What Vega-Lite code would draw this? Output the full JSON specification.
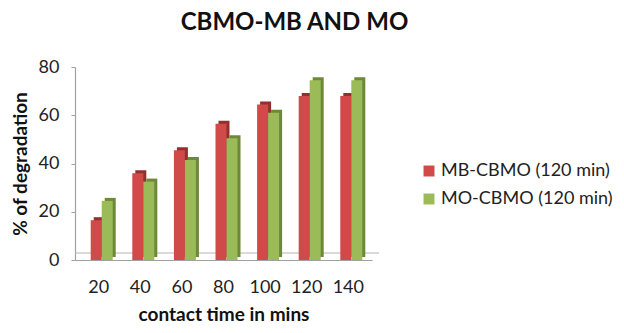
{
  "$schema": "https://vega.github.io/schema/vega-lite/v6.json",
  "width": 297,
  "height": 193,
  "autosize": "none",
  "padding": {"left": 75, "top": 67, "right": 252, "bottom": 73},
  "background": "white",
  "config": {
    "font": "Lato",
    "view": {"stroke": null}
  },
  "title": {
    "text": "CBMO-MB AND MO",
    "font": "Lato",
    "fontSize": 24,
    "fontWeight": "bold",
    "color": "#111111",
    "anchor": "middle",
    "dx": 71,
    "offset": 23
  },
  "data": {
    "values": [
      {"time": 20, "series": "MB-CBMO (120 min)", "degradation": 16.5},
      {"time": 20, "series": "MO-CBMO (120 min)", "degradation": 24.5},
      {"time": 40, "series": "MB-CBMO (120 min)", "degradation": 36},
      {"time": 40, "series": "MO-CBMO (120 min)", "degradation": 32.5},
      {"time": 60, "series": "MB-CBMO (120 min)", "degradation": 45.5},
      {"time": 60, "series": "MO-CBMO (120 min)", "degradation": 41.5},
      {"time": 80, "series": "MB-CBMO (120 min)", "degradation": 56.5},
      {"time": 80, "series": "MO-CBMO (120 min)", "degradation": 50.5},
      {"time": 100, "series": "MB-CBMO (120 min)", "degradation": 64.5},
      {"time": 100, "series": "MO-CBMO (120 min)", "degradation": 61},
      {"time": 120, "series": "MB-CBMO (120 min)", "degradation": 68},
      {"time": 120, "series": "MO-CBMO (120 min)", "degradation": 74.5},
      {"time": 140, "series": "MB-CBMO (120 min)", "degradation": 68},
      {"time": 140, "series": "MO-CBMO (120 min)", "degradation": 74.5}
    ]
  },
  "encoding": {
    "x": {
      "field": "time",
      "type": "ordinal",
      "scale": {"paddingInner": 0, "paddingOuter": 0.07},
      "axis": {
        "title": "contact time in mins",
        "titleFont": "Lato",
        "titleFontSize": 19,
        "titleFontWeight": "bold",
        "titleColor": "#111111",
        "titlePadding": 9,
        "labelAngle": 0,
        "labelFont": "Lato",
        "labelFontSize": 18,
        "labelColor": "#222222",
        "labelPadding": 18,
        "ticks": false,
        "domainColor": "#a0a0a0",
        "domainWidth": 1.2
      }
    },
    "y": {
      "field": "degradation",
      "type": "quantitative",
      "scale": {"domain": [0, 80]},
      "axis": {
        "title": "% of degradation",
        "titleFont": "Lato",
        "titleFontSize": 19,
        "titleFontWeight": "bold",
        "titleColor": "#111111",
        "titlePadding": 8,
        "values": [0, 20, 40, 60, 80],
        "labelFont": "Lato",
        "labelFontSize": 18,
        "labelColor": "#222222",
        "labelPadding": 12,
        "ticks": true,
        "tickSize": 4,
        "tickColor": "#a0a0a0",
        "grid": false,
        "domainColor": "#a0a0a0",
        "domainWidth": 1.2
      }
    }
  },
  "layer": [
    {
      "data": {"values": [{"base": 0}]},
      "mark": {"type": "rule", "color": "#b5b5b5", "strokeWidth": 1, "xOffset": 7, "yOffset": -7},
      "encoding": {
        "y": {"field": "base", "type": "quantitative"},
        "x": null
      }
    },
    {
      "transform": [{"filter": "datum.series === 'MB-CBMO (120 min)'"}],
      "mark": {"type": "bar", "width": 11, "xOffset": 0.5, "yOffset": -3, "color": "#93302f"}
    },
    {
      "transform": [{"filter": "datum.series === 'MO-CBMO (120 min)'"}],
      "mark": {"type": "bar", "width": 11, "xOffset": 11.5, "yOffset": -3, "color": "#6c8838"}
    },
    {
      "transform": [{"filter": "datum.series === 'MB-CBMO (120 min)'"}],
      "mark": {"type": "bar", "width": 11, "xOffset": -2.5},
      "encoding": {
        "color": {
          "field": "series",
          "type": "nominal",
          "scale": {"domain": ["MB-CBMO (120 min)", "MO-CBMO (120 min)"], "range": ["#cf4a48", "#9bbb59"]},
          "legend": {
            "title": null,
            "orient": "none",
            "legendX": 345,
            "legendY": 95,
            "symbolType": "square",
            "symbolSize": 120,
            "symbolStrokeWidth": 0,
            "labelFont": "Lato",
            "labelFontSize": 18,
            "labelLimit": 0,
            "labelColor": "#222222",
            "rowPadding": 10,
            "labelOffset": 3
          }
        }
      }
    },
    {
      "transform": [{"filter": "datum.series === 'MO-CBMO (120 min)'"}],
      "mark": {"type": "bar", "width": 11, "xOffset": 8.5},
      "encoding": {
        "color": {"field": "series", "type": "nominal"}
      }
    }
  ]
}
